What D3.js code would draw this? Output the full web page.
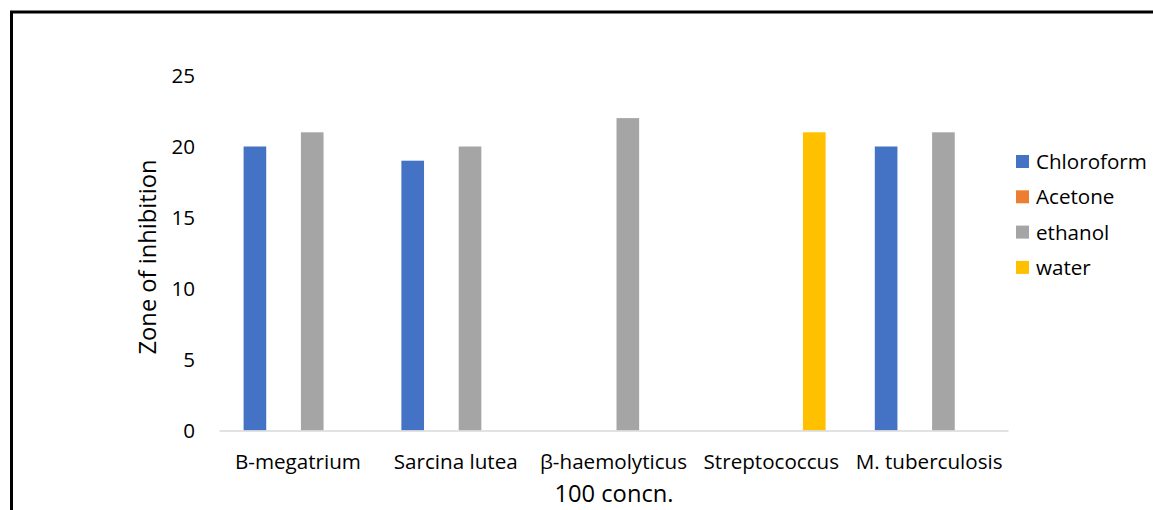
<!DOCTYPE html>
<html><head><meta charset="utf-8">
<script src="https://cdn.jsdelivr.net/npm/d3@7"></script>
<style>body{margin:0;background:#fff;} text{font-family:"Open Sans",sans-serif;fill:#000;}</style>
</head><body><svg id="c" width="1153" height="510"></svg>
<script>
const categories = ["B-megatrium","Sarcina lutea","β-haemolyticus","Streptococcus","M. tuberculosis"];
const seriesNames = ["Chloroform","Acetone","ethanol","water"];
const seriesColors = ["#4472C4","#ED7D31","#A5A5A5","#FFC000"];
const chloroform = [20,19,0,0,20];
const acetone = [0,0,0,0,0];
const ethanol = [21,20,22,0,21];
const water = [0,0,0,21,0];
const yTicks = [0,5,10,15,20,25];
const xTitle = "100 concn.";
const yTitle = "Zone of inhibition";

const values = [chloroform, acetone, ethanol, water];
const svg = d3.select("#c");

// size font so that "B-megatrium" is ~126px wide like the reference
const probe = svg.append("text").attr("font-size",100).text(categories[0]);
const FS = 100*126/probe.node().getComputedTextLength();
probe.remove();
const TFS = FS*1.15;

// outer border
svg.append("rect").attr("x",11.5).attr("y",12).attr("width",1200).attr("height",600)
  .attr("fill","none").attr("stroke","#000").attr("stroke-width",3);

const x0 = d3.scaleBand().domain(categories).range([219,1008]).paddingInner(0).paddingOuter(0);
const bw = x0.bandwidth();
const slot = bw*0.1816;
const barW = slot*0.79;
const y = d3.scaleLinear().domain([0,25]).range([430.5,75.5]);

// bars
seriesNames.forEach((s,si)=>{
  svg.append("g").selectAll("rect").data(values[si].map((v,i)=>({v,c:categories[i]})))
    .join("rect")
    .attr("x",d=>x0(d.c)+bw/2+(si-1.5)*slot-barW/2)
    .attr("width",barW)
    .attr("y",d=>y(d.v))
    .attr("height",d=>y(0)-y(d.v))
    .attr("fill",seriesColors[si]);
});

// x axis
const xa = svg.append("g").attr("transform",`translate(0,${y(0)})`)
  .call(d3.axisBottom(x0).tickSize(0).tickPadding(0));
xa.select(".domain").attr("stroke","#D9D9D9").attr("stroke-width",1.5);
xa.selectAll("text").attr("font-size",FS).attr("fill","#000").attr("dy",null).attr("y",38).style("font-family",null);
xa.attr("font-family",null).attr("font-size",null);

// y axis
const ya = svg.append("g").attr("transform",`translate(195,0)`)
  .call(d3.axisLeft(y).tickValues(yTicks).tickSize(0).tickPadding(0));
ya.select(".domain").remove();
ya.selectAll("text").attr("font-size",FS).attr("fill","#000").attr("dy","0.36em").style("font-family",null);
ya.attr("font-family",null).attr("font-size",null);

// titles
svg.append("text").attr("x",614).attr("y",502).attr("text-anchor","middle").attr("font-size",TFS).text(xTitle);
svg.append("text").attr("transform","translate(156,257) rotate(-90)").attr("text-anchor","middle").attr("font-size",TFS).text(yTitle);

// legend
const lg = svg.append("g");
seriesNames.forEach((s,i)=>{
  const cy = 161.5 + i*35.3;
  lg.append("rect").attr("x",1016).attr("y",cy-6.5).attr("width",13).attr("height",13).attr("fill",seriesColors[i]);
  lg.append("text").attr("x",1036).attr("y",cy).attr("dy","0.36em").attr("font-size",FS).text(s);
});
</script></body></html>
